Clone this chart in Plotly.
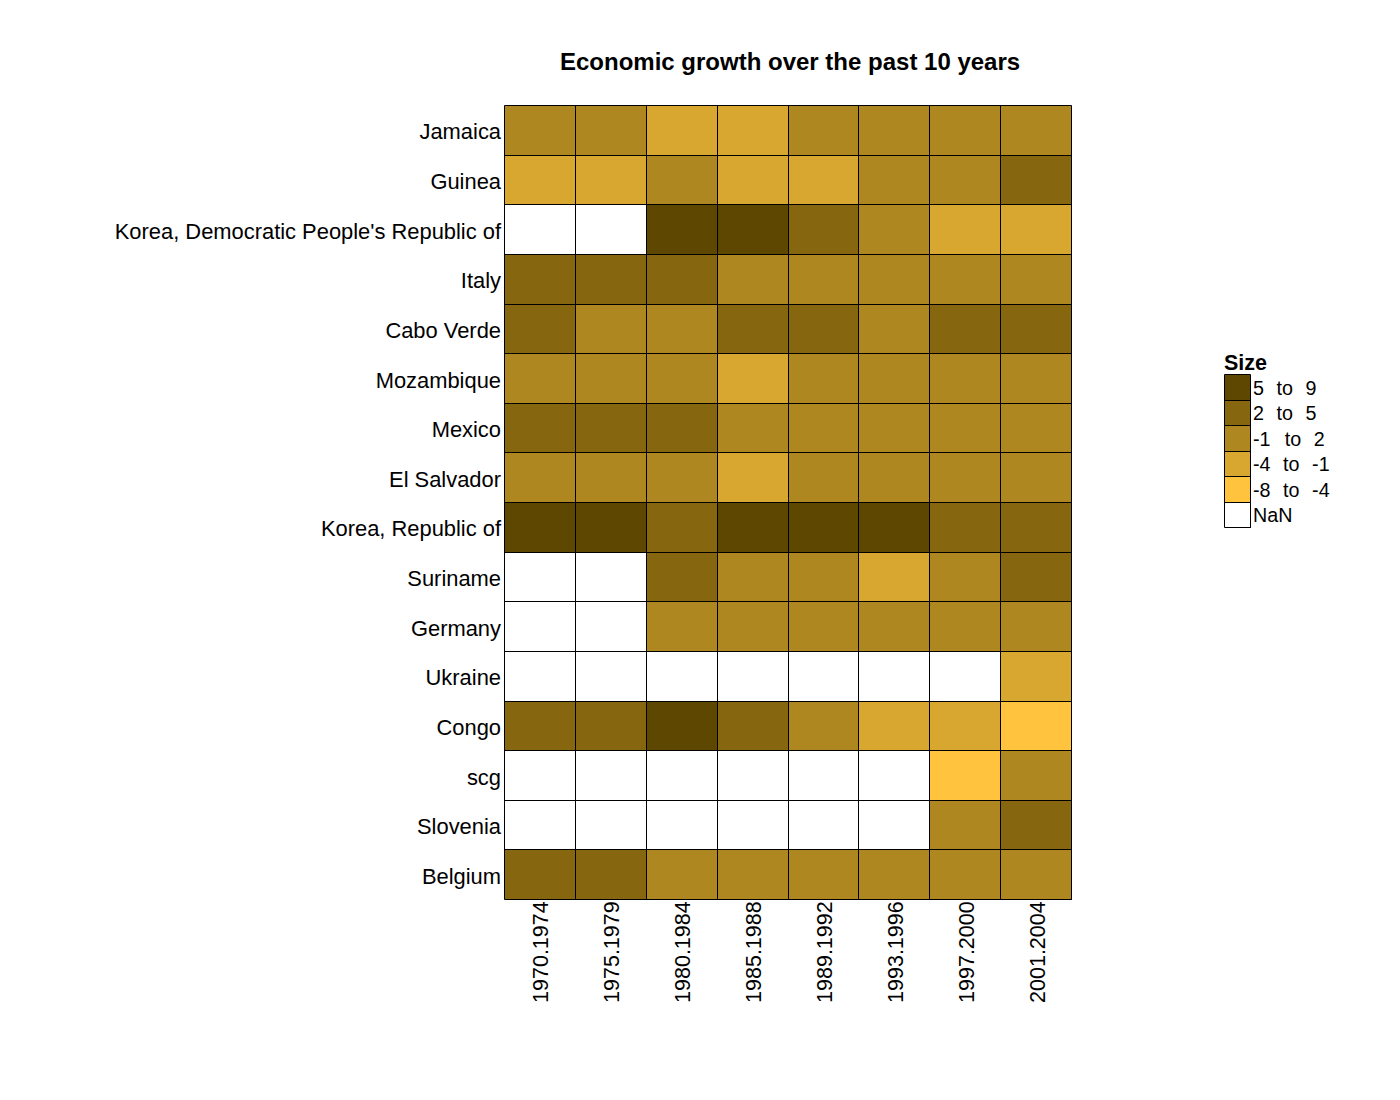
import numpy as np
import plotly.graph_objects as go

nan = float("nan")
periods = ["1970.1974", "1975.1979", "1980.1984", "1985.1988", "1989.1992", "1993.1996", "1997.2000", "2001.2004"]
countries = ["Jamaica", "Guinea", "Korea, Democratic People's Republic of", "Italy", "Cabo Verde", "Mozambique",
             "Mexico", "El Salvador", "Korea, Republic of", "Suriname", "Germany", "Ukraine", "Congo", "scg",
             "Slovenia", "Belgium"]
growth = [
    [0.5, 0.2, -2.0, -1.5, 1.2, 0.6, 0.1, 1.0],
    [-2.0, -1.6, 0.3, -1.5, -1.8, 1.5, 1.0, 3.0],
    [nan, nan, 6.0, 5.5, 2.5, 0.5, -2.0, -1.5],
    [3.0, 3.0, 2.5, 1.5, 1.8, 1.0, 1.5, 0.5],
    [3.5, 1.0, 1.5, 3.0, 3.5, 1.5, 3.5, 3.0],
    [0.5, 0.3, 0.2, -2.5, 1.0, 1.5, 1.8, 1.2],
    [3.0, 3.5, 2.2, 0.5, 1.5, 1.0, 1.8, 0.8],
    [1.0, 0.8, 0.3, -1.5, 1.5, 1.8, 1.0, 0.6],
    [5.5, 6.0, 4.5, 7.0, 6.5, 6.0, 4.0, 4.5],
    [nan, nan, 3.0, 0.5, 1.0, -2.0, 1.2, 3.5],
    [nan, nan, 1.2, 1.5, 1.8, 1.0, 1.6, 0.5],
    [nan, nan, nan, nan, nan, nan, nan, -2.0],
    [4.0, 3.5, 6.0, 3.0, 0.5, -2.5, -1.5, -5.0],
    [nan, nan, nan, nan, nan, nan, -5.0, 1.5],
    [nan, nan, nan, nan, nan, nan, 1.5, 3.5],
    [3.2, 2.5, 1.0, 1.5, 1.8, 1.2, 1.7, 1.0],
]
bin_edges = [-8, -4, -1, 2, 5, 9]
bin_colors = ["#FFC33D", "#D7A730", "#AE8720", "#86670F", "#5E4700"]
nan_color = "#FFFFFF"
S = "\u00a0\u00a0"
H_ = "\u200a"
legend_labels = ["NaN", f"-8{S}{H_}to{S}{H_}-4", f"-4{S}{H_}to{S}{H_}-1",
                 f"-1{S}{H_}{H_}to{S}{H_}2", f"2{S}{H_}to{S}{H_}5", f"5{S}{H_}to{S}{H_}9"]
title_text = "Economic growth over the past 10 years"

arr = np.array(growth, dtype=float)
codes = np.digitize(np.nan_to_num(arr, nan=-100.0), bin_edges[1:-1]) + 1
codes[np.isnan(arr)] = 0

all_colors = [nan_color] + bin_colors
n = len(all_colors)
scale = [[i / (n - 1), c] for i, c in enumerate(all_colors)]

W, H = 1400, 1100
OX, OY = 8, 8   # page body margin
FW, FH = W - 16, H - 16
def dx(a, b):
    return [(a - OX) / FW, (b - OX) / FW]
def dy(a, b):
    return [1 - (b - OY) / FH, 1 - (a - OY) / FH]
def frame(x0, x1, y0, y1):
    return dict(type="rect", xref="paper", yref="paper", layer="above",
                x0=(x0 - OX) / FW, x1=(x1 - OX) / FW, y0=1 - (y0 - OY) / FH, y1=1 - (y1 - OY) / FH,
                line=dict(color="black", width=1), fillcolor="rgba(0,0,0,0)")

FONT = "Liberation Sans, Arial, sans-serif"
fig = go.Figure()
fig.add_trace(go.Heatmap(z=codes[::-1], x=periods, y=countries[::-1], colorscale=scale, zmin=0, zmax=n - 1,
                         showscale=False, xgap=1, ygap=1, hoverinfo="skip", xaxis="x", yaxis="y"))
fig.add_trace(go.Heatmap(z=[[v] for v in range(n)], x=["k"], y=legend_labels, colorscale=scale,
                         zmin=0, zmax=n - 1, showscale=False, xgap=1, ygap=1, hoverinfo="skip", xaxis="x2", yaxis="y2"))

fig.update_layout(
    width=FW, height=FH, margin=dict(l=0, r=0, t=0, b=0), autosize=False,
    paper_bgcolor="white", plot_bgcolor="black", font=dict(family=FONT, color="black"),
    xaxis=dict(domain=dx(505, 1072), type="category", tickangle=-90, tickfont=dict(size=21.5), ticks="",
               showgrid=False, zeroline=False, showline=False, ticklabelstandoff=-4, ticklabelshift=1),
    yaxis=dict(domain=dy(106, 900), type="category", tickfont=dict(size=21.9), ticks="", showgrid=False,
               zeroline=False, showline=False, ticklabelstandoff=3, ticklabelshift=1),
    xaxis2=dict(domain=dx(1225, 1251), anchor="y2", type="category", showticklabels=False, ticks="", showgrid=False,
                zeroline=False, showline=False),
    yaxis2=dict(domain=dy(375, 528), anchor="x2", type="category", side="right", tickfont=dict(size=19.7), ticks="",
                showgrid=False, zeroline=False, showline=False, ticklabelstandoff=1),
    shapes=[frame(504.5, 1071.5, 105.5, 899.5), frame(1224.5, 1250.5, 374.5, 527.5)],
    annotations=[
        dict(text="<b>" + title_text + "</b>", xref="paper", yref="paper", x=(789.5 - OX) / FW, y=1 - (62 - OY) / FH,
             xanchor="center", yanchor="middle", showarrow=False, font=dict(size=24, family=FONT, color="black")),
        dict(text="<b>Size</b>", xref="paper", yref="paper", x=(1224 - OX) / FW, y=1 - (363 - OY) / FH,
             xanchor="left", yanchor="middle", showarrow=False, xshift=-2, font=dict(size=21.5, family=FONT, color="black")),
    ],
)
fig.write_html("out.html")
